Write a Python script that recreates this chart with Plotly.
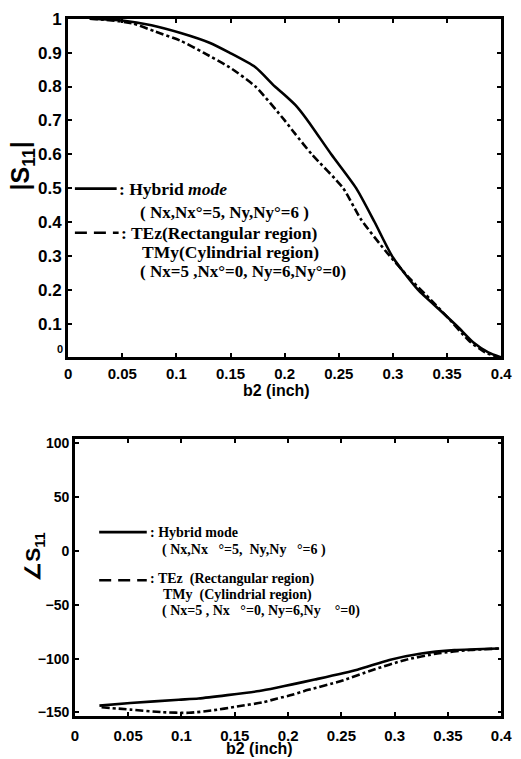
import plotly.graph_objects as go

W, H = 521, 759

# ---------------- data ----------------
top_b2_hybrid = [0.02, 0.05, 0.077, 0.104, 0.13, 0.149, 0.173, 0.191, 0.2, 0.21,
                 0.22, 0.243, 0.266, 0.283, 0.3, 0.323, 0.345, 0.36, 0.374, 0.388, 0.4]
top_mag_hybrid = [1.0, 0.995, 0.981, 0.958, 0.93, 0.9, 0.857, 0.8, 0.775, 0.745,
                  0.705, 0.6, 0.5, 0.4, 0.295, 0.2, 0.135, 0.09, 0.045, 0.015, 0.0]

top_b2_te = [0.02, 0.035, 0.059, 0.08, 0.104, 0.125, 0.149, 0.173, 0.2, 0.209,
             0.225, 0.254, 0.27, 0.293, 0.317, 0.335, 0.35, 0.37, 0.385, 0.398]
top_mag_te = [1.0, 0.997, 0.987, 0.963, 0.935, 0.9, 0.857, 0.8, 0.7, 0.663,
              0.6, 0.5, 0.41, 0.315, 0.228, 0.17, 0.12, 0.05, 0.015, 0.0]

bot_b2_hybrid = [0.023, 0.052, 0.0975, 0.116, 0.143, 0.173, 0.189, 0.204, 0.225,
                 0.265, 0.295, 0.325, 0.356, 0.398]
bot_ang_hybrid = [-143.6, -141.2, -138.2, -137, -133.9, -130, -127, -123.9, -119.4,
                  -110.3, -101.2, -95.2, -92.1, -90.6]

bot_b2_te = [0.025, 0.052, 0.082, 0.107, 0.128, 0.152, 0.176, 0.19, 0.204, 0.219,
             0.249, 0.28, 0.31, 0.34, 0.371, 0.398]
bot_ang_te = [-145.2, -147.3, -149.7, -150.3, -148.2, -144.5, -140.6, -137, -133.5,
              -129, -121, -110.3, -101.2, -95.2, -92, -90.6]

x_ticks = [0, 0.05, 0.1, 0.15, 0.2, 0.25, 0.3, 0.35, 0.4]
x_ticktext = ["0", "0.05", "0.1", "0.15", "0.2", "0.25", "0.3", "0.35", "0.4"]
top_y_ticks = [0.1, 0.2, 0.3, 0.4, 0.5, 0.6, 0.7, 0.8, 0.9, 1.0]
top_y_ticktext = ["0.1", "0.2", "0.3", "0.4", "0.5", "0.6", "0.7", "0.8", "0.9", "1"]
bot_y_ticks = [-150, -100, -50, 0, 50, 100]

# ---------------- helpers ----------------
def px(x):
    return x / W

def py(y):
    return 1 - y / H

SANS = "Liberation Sans"
SERIF = "Liberation Serif"

fig = go.Figure()

line_solid = dict(color="black", width=2.6, shape="spline", smoothing=0.6)
line_dd = dict(color="black", width=2.6, dash="8px,3px,3px,3px", shape="spline", smoothing=0.6)

fig.add_trace(go.Scatter(x=top_b2_hybrid, y=top_mag_hybrid, mode="lines",
                         line=line_solid, xaxis="x", yaxis="y", showlegend=False))
fig.add_trace(go.Scatter(x=top_b2_te, y=top_mag_te, mode="lines",
                         line=line_dd, xaxis="x", yaxis="y", showlegend=False))
fig.add_trace(go.Scatter(x=bot_b2_hybrid, y=bot_ang_hybrid, mode="lines",
                         line=line_solid, xaxis="x2", yaxis="y2", showlegend=False))
fig.add_trace(go.Scatter(x=bot_b2_te, y=bot_ang_te, mode="lines",
                         line=line_dd, xaxis="x2", yaxis="y2", showlegend=False))

axis_common = dict(showline=True, linecolor="black", mirror="allticks",
                   ticks="inside", ticklen=4, tickwidth=1.5, tickcolor="black",
                   showgrid=False, zeroline=False)

fig.update_layout(
    width=W, height=H,
    margin=dict(l=0, r=0, t=0, b=0),
    paper_bgcolor="white", plot_bgcolor="white",
    xaxis=dict(domain=[px(66), px(512)], range=[0, 0.4], anchor="y",
               tickvals=x_ticks, ticktext=x_ticktext, linewidth=3,
               tickfont=dict(family=SANS, size=15, color="black", weight="bold"),
               ticklabelstandoff=1, ticklabeloverflow="allow", **axis_common),
    yaxis=dict(domain=[py(355), py(10)], range=[0, 1], anchor="x",
               tickvals=top_y_ticks, ticktext=top_y_ticktext, linewidth=3,
               tickfont=dict(family=SANS, size=17, color="black", weight="bold"),
               ticklabeloverflow="allow", **axis_common),
    xaxis2=dict(domain=[px(73), px(512)], range=[0, 0.4], anchor="y2",
                tickvals=x_ticks, ticktext=x_ticktext, linewidth=2.5,
                tickfont=dict(family=SANS, size=15, color="black", weight="bold"),
                ticklabelstandoff=5, ticklabeloverflow="allow", **axis_common),
    yaxis2=dict(domain=[py(720), py(438)], range=[-153, 104], anchor="x2",
                tickvals=bot_y_ticks, linewidth=2.5,
                tickfont=dict(family=SANS, size=14, color="black", weight="bold"),
                ticklabeloverflow="allow", **axis_common),
)

ann = []

def text(x, y, s, size, family=SERIF, xanchor="left", angle=0, bold=True):
    ann.append(dict(xref="paper", yref="paper", x=px(x), y=py(y), text=s,
                    showarrow=False, xanchor=xanchor, yanchor="middle",
                    textangle=angle,
                    font=dict(family=family, size=size, color="black",
                              weight="bold" if bold else "normal")))

text(58, 346, "0", 11, family=SANS, xanchor="center")
text(19, 160, "|S<sub>11</sub>|", 25, family=SANS, xanchor="center", angle=-90)
text(281, 389, "b2 (inch)", 16, family=SANS, xanchor="center")

text(116, 183, ": Hybrid <i>mode</i>", 17.5)
text(138, 207, "( Nx,Nx°=5, Ny,Ny°=6 )", 17)
text(118, 228, ": TEz(Rectangular region)", 17.5)
text(140, 247.5, "TMy(Cylindrial region)", 17.5)
text(138, 267, "( Nx=5 ,Nx°=0, Ny=6,Ny°=0)", 17)

text(31, 558, "∠S<sub>11</sub>", 21, family=SANS, xanchor="center", angle=-90)
text(263, 753, "b2 (inch)", 16, family=SANS, xanchor="center")

text(148, 533, ": Hybrid mode", 14)
text(161, 551, "( Nx,Nx   °=5,  Ny,Ny   °=6 )", 14)
text(148, 581, ": TEz  (Rectangular region)", 14)
text(162, 597, "TMy  (Cylindrial region)", 14)
text(161, 613, "( Nx=5 , Nx   °=0, Ny=6,Ny    °=0)", 14)

fig.update_layout(annotations=ann)

shapes = []
def seg(x0, x1, y, dash):
    shapes.append(dict(type="line", xref="paper", yref="paper",
                       x0=px(x0), x1=px(x1), y0=py(y), y1=py(y),
                       line=dict(color="black", width=2.6, dash=dash)))

seg(73, 116, 183, "solid")
seg(73, 118, 228, "12px,7px")
seg(98, 147, 533, "solid")
seg(98, 147, 582, "12px,7px")
fig.update_layout(shapes=shapes)

post = ("var d=document.getElementById('{plot_id}');"
        "document.documentElement.style.margin='0';"
        "document.body.style.margin='0';document.body.style.overflow='hidden';"
        "d.style.position='fixed';d.style.top='0px';d.style.left='0px';")

fig.write_html("out.html", config={"displayModeBar": False}, post_script=post)
